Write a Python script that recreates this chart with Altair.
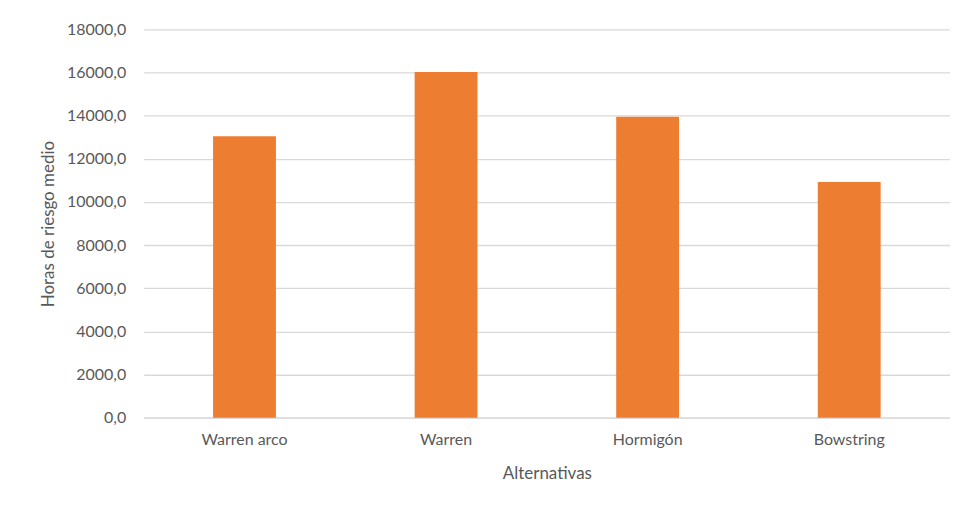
import altair as alt
import pandas as pd

categories = ["Warren arco", "Warren", "Hormigón", "Bowstring"]
values = [13050, 16030, 13950, 10930]

df = pd.DataFrame({"Alternativas": categories, "Horas": values})

FONT = "Lato"
TXT = "#595959"

chart = alt.Chart(df).mark_bar(color="#ED7D31", size=63).encode(
    x=alt.X("Alternativas:N", sort=categories, title="Alternativas",
            scale=alt.Scale(paddingInner=0, paddingOuter=0),
            axis=alt.Axis(labelAngle=0, labelPadding=14, titlePadding=18,
                          ticks=False, domainColor="#D9D9D9", domainWidth=1.3,
                          labelFontSize=16, titleFontSize=17)),
    y=alt.Y("Horas:Q", title="Horas de riesgo medio",
            scale=alt.Scale(domain=[0, 18000], nice=False),
            axis=alt.Axis(values=list(range(0, 18001, 2000)),
                          labelExpr="replace(format(datum.value, '.1f'), '.', ',')",
                          domain=False, ticks=False, labelPadding=18, titlePadding=9,
                          gridColor="#D9D9D9", gridWidth=1.3,
                          labelFontSize=16, titleFontSize=17)),
).properties(
    width=808, height=389,
    padding={"left": 136, "top": 21, "right": 0, "bottom": 80},
    autosize=alt.AutoSizeParams(type="none"),
).configure_axis(
    labelFont=FONT, titleFont=FONT, labelColor=TXT, titleColor=TXT,
    titleFontWeight="normal",
).configure_view(stroke=None)

chart.save("out.html", embed_options={"renderer": "svg", "actions": False})
